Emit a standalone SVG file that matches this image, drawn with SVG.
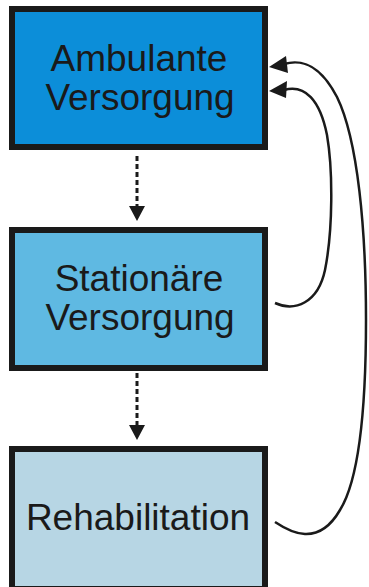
<svg xmlns="http://www.w3.org/2000/svg" width="369" height="587" viewBox="0 0 369 587">
<style>
.box{stroke:#1a1a1a;stroke-width:6}
.lbl{font-family:"Liberation Sans",Arial,sans-serif;font-size:37px;fill:#1a1a1a;text-anchor:middle}
.dash{fill:none;stroke:#1a1a1a;stroke-width:3;stroke-dasharray:5 3}
.curve{fill:none;stroke:#1a1a1a;stroke-width:2.5}
.head{fill:#1a1a1a}
</style>
<rect width="369" height="587" fill="#ffffff"/>
<g id="node-ambulant">
<rect class="box" x="12" y="9" width="253" height="138" fill="#0c8ed9"/>
<text class="lbl" x="139" y="71">Ambulante</text>
<text class="lbl" x="140" y="110">Versorgung</text>
</g>
<g id="node-stationaer">
<rect class="box" x="12" y="230" width="253" height="138" fill="#5fb9e2"/>
<text class="lbl" x="139" y="291">Stationäre</text>
<text class="lbl" x="140" y="330">Versorgung</text>
</g>
<g id="node-reha">
<rect class="box" x="12" y="449" width="253" height="140" fill="#b7d6e4"/>
<text class="lbl" x="138" y="530">Rehabilitation</text>
</g>
<g id="connectors">
<path class="dash" d="M137,156 V207"/>
<polygon class="head" points="129,206 145,206 137,221"/>
<path class="dash" d="M137,373 V426"/>
<polygon class="head" points="129,425 145,425 137,440"/>
<path class="curve" d="M275,303 C295,312 318,303 325,270 C333,230 333,170 327,135 C320,100 305,84 284,90"/>
<polygon class="head" points="269,91 287,81 286,98"/>
<path class="curve" d="M275,522 C290,532 318,548 340,510 C360,478 366,400 366,320 C366,230 358,140 337,97 C322,68 305,58 284,64"/>
<polygon class="head" points="269,67 286,56 288,73"/>
</g>
</svg>
